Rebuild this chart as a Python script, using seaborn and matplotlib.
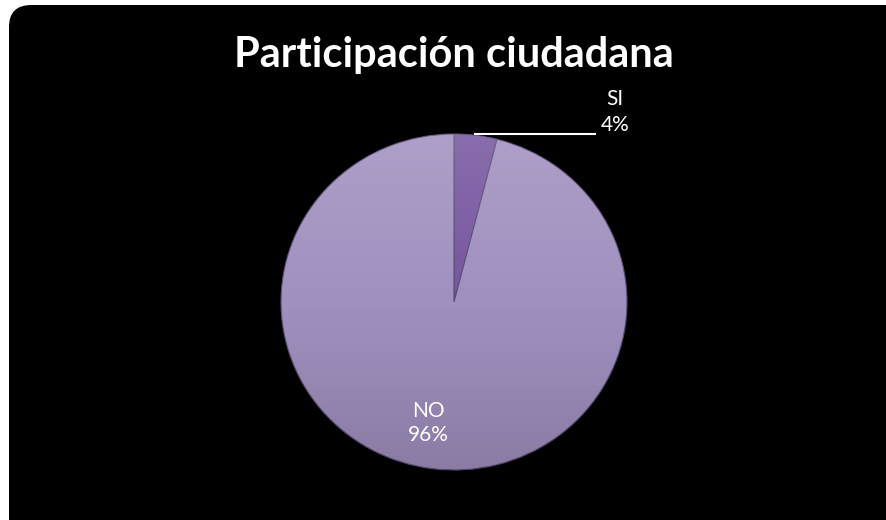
import numpy as np
import matplotlib
matplotlib.use("Agg")
import matplotlib.pyplot as plt
from matplotlib.patches import FancyBboxPatch, Ellipse
import seaborn as sns

# ---- data ----
categories = ["SI", "NO"]
percentages = [4, 96]
title_text = "Participación ciudadana"
slice_colors = ["#76569f", "#a090bf"]

sns.set_theme(style="white")
plt.rcParams["font.family"] = ["Lato", "DejaVu Sans"]

W, H = 887, 520
cx, cy = 454, 302      # pixel centre of pie
RX, RY = 173, 168      # pixel radii of pie


def px(x):
    return (x - cx) / RX


def py(y):
    return (cy - y) / RY


fig = plt.figure(figsize=(W / 100, H / 100), dpi=100)
fig.patch.set_facecolor("white")
ax = fig.add_axes([0, 0, 1, 1])


def set_limits():
    ax.set_xlim(px(0), px(W))
    ax.set_ylim(py(H), py(0))
    ax.set_aspect("auto")
    ax.axis("off")


set_limits()

# black rounded panel
panel = FancyBboxPatch((px(9), py(600)), 10, py(5) - py(600),
                       boxstyle="round,pad=0,rounding_size=0.13",
                       facecolor="black", edgecolor="none", zorder=0)
ax.add_patch(panel)

wedges, _ = ax.pie(percentages, colors=slice_colors, startangle=90,
                   counterclock=False, radius=1, center=(0, 0),
                   wedgeprops=dict(edgecolor="#5a4b72", linewidth=0.8),
                   frame=True)
set_limits()
for w in wedges:
    w.set_zorder(2)

# vertical shading overlay clipped to the pie
n = 256
grad = np.zeros((n, 1, 4))
t = np.linspace(0, 1, n)[:, None]
grad[..., 0:3] = np.where(t[..., None] < 0.5, 1.0, 0.0)
grad[..., 3] = np.abs(t - 0.5) * 0.28
img = ax.imshow(grad, extent=(-1, 1, -1, 1), origin="upper",
                aspect="auto", zorder=3, interpolation="bilinear")
clip = Ellipse((0, 0), 2, 2, transform=ax.transData)
img.set_clip_path(clip)
set_limits()

# title
ax.text(px(453.5), py(67), title_text, color="white",
        fontsize=30, fontweight="bold", ha="center", va="baseline", zorder=5)

# labels
txt_si = f"{categories[0]}\n{percentages[0]}%"
txt_no = f"{categories[1]}\n{percentages[1]}%"
ax.text(px(615), py(112), txt_si, color="white", fontsize=15,
        ha="center", va="center", linespacing=1.4, zorder=5)
ax.text(px(428), py(423), txt_no, color="white", fontsize=15,
        ha="center", va="center", linespacing=1.3, zorder=5)

# leader line
ax.plot([px(474), px(596)], [py(133.5)] * 2,
        color="white", lw=1.5, zorder=5, solid_capstyle="butt")

fig.savefig("out.png", dpi=100, facecolor=fig.get_facecolor())
